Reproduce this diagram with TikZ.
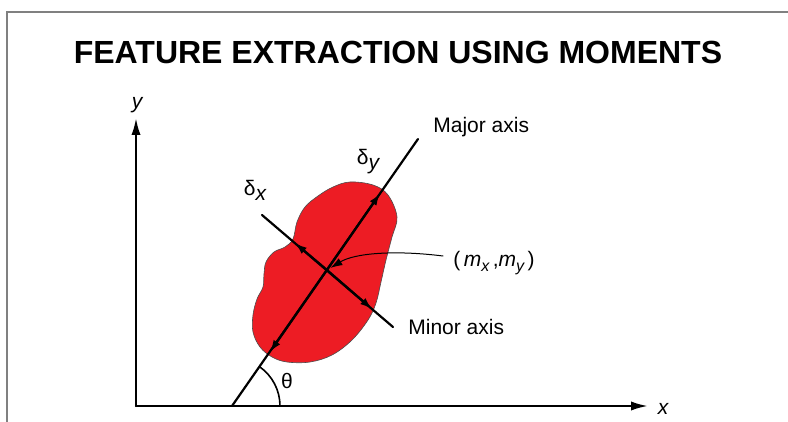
\documentclass[tikz,border=0pt]{standalone}
\usepackage{fontspec}
\setmainfont{Liberation Sans}
\usetikzlibrary{arrows.meta}
\definecolor{blobred}{RGB}{237,28,36}

\begin{document}
\begin{tikzpicture}[x=0.5pt,y=-0.5pt,>={Latex[length=6pt,width=4pt]},line cap=round,
  axisline/.style={line width=1.1pt,-{Latex[length=8.5pt,width=4.6pt]}},
  momline/.style={line width=1.1pt},
  lbl/.style={font=\fontsize{10.5}{12}\selectfont,inner sep=0pt}]
\useasboundingbox (0,0) rectangle (788,422);
\draw[gray,line width=0.6pt] (7,422) -- (7,12) -- (788,12);
\node[font=\fontsize{16}{19}\selectfont\bfseries] (title) at (398,52) {FEATURE EXTRACTION USING MOMENTS};
\fill[blobred,draw=black!70,line width=0.3pt] plot[smooth cycle,tension=0.6] coordinates {
  (350,182) (373,185) (388,195) (397,217) (392,237) (386,260) (381,282) (376,303)
  (368,320) (352,340) (332,355) (310,362) (287,362) (272,357) (260,347) (253,332)
  (253,315) (257,299) (263,287) (264,274) (266,262) (274,252) (285,247) (293,239)
  (297,222) (305,207) (318,196) (333,187)};
\coordinate (O) at (136,406);
\coordinate (ytip) at (136,118);
\coordinate (xtip) at (648,406);
\coordinate (majlo) at (232,406);
\coordinate (majhi) at (418,139);
\coordinate (minhi) at (262,215);
\coordinate (minlo) at (393,327);
\coordinate (C) at (327,270);
\coordinate (dyhi) at (380,193.5);
\coordinate (dylo) at (270,352);
\coordinate (dxhi) at (295,243);
\coordinate (dxlo) at (372,309);
\coordinate (lead) at (443,256);
\draw[axisline] (O) -- (ytip);
\draw[axisline] (O) -- (xtip);
\draw[momline] (majlo) -- (majhi);
\draw[momline] (minhi) -- (minlo);
\draw[momline,->] (C) -- (dyhi);
\draw[momline,->] (C) -- (dylo);
\draw[momline,->] (C) -- (dxhi);
\draw[momline,->] (C) -- (dxlo);
\draw[line width=0.8pt] (280,406) arc[start angle=0,end angle=-55.1,radius=48];
\draw[line width=0.5pt,->,shorten >=2pt] (lead) .. controls (395,250) and (355,253) .. (C);
\node[lbl] (ylbl) at (137,105) {\itshape y};
\node[lbl] (xlbl) at (663,409) {\itshape x};
\node[lbl,anchor=west] (major) at (433,127) {Major axis};
\node[lbl,anchor=west] (minor) at (408,327) {Minor axis};
\node[lbl,anchor=west] (mxy) at (453,263) {(\,\textit{m}\raisebox{-0.45ex}{\footnotesize\itshape x}\,,\textit{m}\raisebox{-0.45ex}{\footnotesize\itshape y}\,)};
\node[lbl] (dx) at (255,190) {δ\raisebox{-0.45ex}{\itshape x}};
\node[lbl] (dy) at (368,162) {δ\raisebox{-0.45ex}{\itshape y}};
\node[lbl] (th) at (287,381) {θ};
\end{tikzpicture}
\end{document}
